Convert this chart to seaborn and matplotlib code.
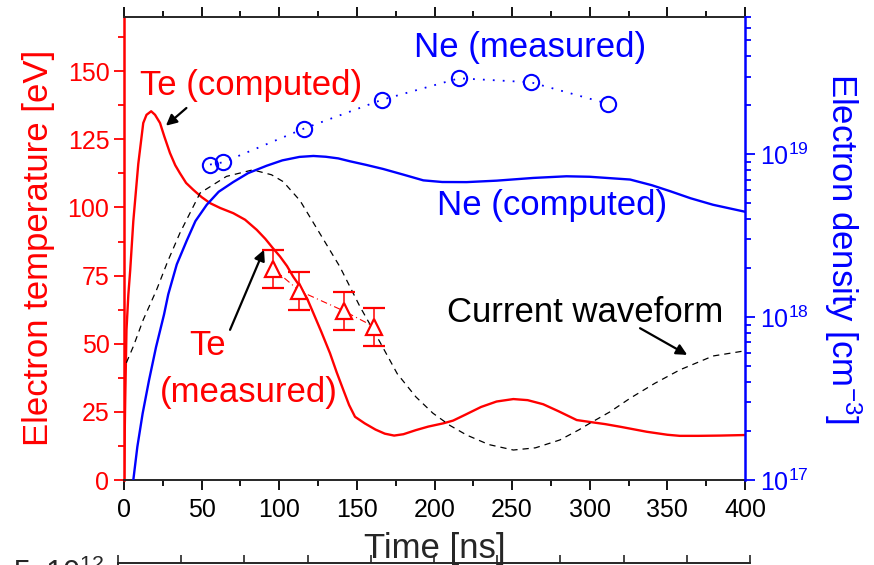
"""
Te / Ne time evolution with current waveform (reproduction)
"""
import numpy as np
import pandas as pd
import matplotlib; matplotlib.use('Agg')
import matplotlib.pyplot as plt
from matplotlib.ticker import MultipleLocator, AutoMinorLocator, LogLocator, NullFormatter
import seaborn as sns

# ── data ──────────────────────────────────────────────────────
te_t = [0, 0.8, 1.6, 2.8, 4.0, 6.0, 9.2, 12.4, 14.5, 17.5, 20, 23.2, 26, 29.6, 33, 36,
        40, 44.6, 50, 55.4, 62, 70.4, 78, 85.5, 91, 96, 100.5, 105, 109, 113.4, 118,
        122, 127, 132.7, 137, 141.3, 145, 148.8, 155, 162, 168, 174, 180, 188, 196,
        205.7, 212, 220, 230, 240, 250.8, 260, 270, 280, 291.6, 300, 310, 320, 336.7,
        350, 358, 370, 384, 400]
te_val = [0, 30, 55, 68, 77, 95, 116, 131, 134, 135.3, 134, 131, 126, 120, 115.5, 112.6,
          109, 106.5, 103.8, 101.6, 99.8, 97.9, 95.5, 91.8, 88.5, 85, 82, 78.5, 74.6, 71,
          66.5, 61.2, 54.5, 46.5, 39.5, 33, 27.5, 23.2, 20.8, 18.5, 17.0, 16.3, 16.8, 18.3,
          19.6, 20.8, 21.8, 24, 26.8, 28.8, 29.7, 29.3, 27.8, 25.2, 22.0, 21.3, 20.5, 19.5,
          17.7, 16.6, 16.2, 16.2, 16.3, 16.5]

cur_t = [1.5, 6, 12.4, 21, 28, 36, 49, 66, 83, 95, 102.5, 113.4, 126, 139, 152, 164,
         176, 188, 199, 210, 220.7, 235, 250.8, 265, 280.8, 293, 300, 313, 326, 342,
         358, 379.4, 400]
cur_val = [43, 49, 58.8, 69.8, 80, 90.6, 105.3, 111.4, 113.8, 112, 109.5, 102.5, 90.6,
           78.3, 63.6, 51.5, 39, 30.5, 24.5, 20, 16.5, 13, 11.0, 11.8, 14.7, 18.4, 20.8,
           25, 30, 35.5, 40.4, 45.5, 47.4]

te_meas_t = [96.2, 113.0, 141.7, 161.2]
te_meas = [77.5, 69.4, 62.0, 56.2]
te_meas_err = [7, 7, 7, 7]

ne_t = [6.0, 8.6, 12.0, 16.1, 20.6, 25.8, 28.5, 34, 40.4, 46, 53.3, 61, 70.4, 80, 91.9,
        102, 113, 122, 130, 138, 145.6, 156, 166.9, 180, 192.8, 205, 220.7, 240, 263.6,
        285, 300, 326, 340, 351.7, 365, 379.4, 400]
ne_val = [1.0e17, 1.60e17, 2.56e17, 4.09e17, 6.53e17, 1.04e18, 1.38e18, 2.11e18, 2.95e18,
          3.89e18, 4.9e18, 5.89e18, 6.76e18, 7.67e18, 8.51e18, 9.18e18, 9.64e18, 9.77e18,
          9.66e18, 9.44e18, 9.06e18, 8.61e18, 8.13e18, 7.5e18, 6.92e18, 6.76e18, 6.75e18,
          6.89e18, 7.16e18, 7.33e18, 7.28e18, 7.0e18, 6.46e18, 5.94e18, 5.37e18, 4.9e18,
          4.44e18]

ne_meas_t = [55.4, 64.0, 116.0, 166.0, 215.8, 262.0, 312.0]
ne_meas = [8.65e18, 8.94e18, 1.44e19, 2.16e19, 2.93e19, 2.77e19, 2.04e19]

x_ticks = [0, 50, 100, 150, 200, 250, 300, 350, 400]
te_ticks = [0, 25, 50, 75, 100, 125, 150]

RED = '#ff0000'
BLUE = '#0000ff'

# ── style ─────────────────────────────────────────────────────
sns.set_theme(style='ticks')
plt.rcParams['font.family'] = ['Liberation Sans', 'DejaVu Sans']
plt.rcParams.update({
    'mathtext.fontset': 'custom',
    'mathtext.rm': 'Liberation Sans',
    'mathtext.it': 'Liberation Sans:italic',
    'mathtext.default': 'regular',
    'axes.linewidth': 1.4,
})

fig = plt.figure(figsize=(8.74, 5.65), dpi=100, facecolor='white')
ax = fig.add_axes([124/874, 1 - 480/565, (745-124)/874, (480-16.7)/565])
ax2 = ax.twinx()

# Te computed / current waveform / Te measured (left axis)
sns.lineplot(x=te_t, y=te_val, ax=ax, color=RED, lw=1.7, sort=False)
sns.lineplot(x=cur_t, y=cur_val, ax=ax, color='black', lw=0.9, sort=False,
             linestyle=(0, (5, 4)))
ax.errorbar(te_meas_t, te_meas, yerr=te_meas_err, color=RED, lw=0.8,
            ls=(0, (6, 3, 1, 3)), marker='^', ms=12, mfc='white', mec=RED, mew=1.6,
            capsize=8, elinewidth=1.1, capthick=1.1, zorder=5)

# Ne computed / measured (right axis)
sns.lineplot(x=ne_t, y=ne_val, ax=ax2, color=BLUE, lw=1.7, sort=False)
ax2.plot(ne_meas_t, ne_meas, color=BLUE, lw=1.3, ls=(0, (1, 4.5)), marker='o', ms=11,
         mfc='none', mec=BLUE, mew=1.5)

# ── axes formatting ───────────────────────────────────────────
ax.set_xlim(0, 400)
ax.set_ylim(0, 170)
ax.set_xticks(x_ticks)
ax.xaxis.set_minor_locator(MultipleLocator(25))
ax.set_yticks(te_ticks)
ax.yaxis.set_minor_locator(AutoMinorLocator(2))
ax.tick_params(axis='x', which='both', direction='out', top=True, colors='black',
               labelsize=18, pad=6)
ax.tick_params(axis='x', which='major', length=7, width=1.3)
ax.tick_params(axis='x', which='minor', length=4, width=1.3)
ax.tick_params(axis='y', which='both', direction='out', colors=RED, labelsize=18,
               right=False)
ax.tick_params(axis='y', which='major', length=7, width=1.3)
ax.tick_params(axis='y', which='minor', length=4, width=1.3)
ax.set_xlabel('Time [ns]', fontsize=25, labelpad=7)
ax.set_ylabel('Electron temperature [eV]', fontsize=25, color=RED, labelpad=9)
ax.spines['left'].set_color(RED)
ax.spines['left'].set_linewidth(1.8)
ax.spines['right'].set_visible(False)

ax2.set_yscale('log')
ax2.set_ylim(1e17, 7e19)
ax2.yaxis.set_major_locator(LogLocator(base=10, numticks=10))
ax2.yaxis.set_minor_locator(LogLocator(base=10, subs=np.arange(2, 10), numticks=10))
ax2.yaxis.set_minor_formatter(NullFormatter())
ax2.tick_params(axis='y', which='both', direction='out', colors=BLUE, labelsize=18)
ax2.tick_params(axis='y', which='major', length=7, width=1.3)
ax2.tick_params(axis='y', which='minor', length=4, width=1.3)
ax2.set_ylabel('Electron density [cm$^{-3}$]', fontsize=25, color=BLUE,
               rotation=270, labelpad=40)
ax2.spines['right'].set_color(BLUE)
ax2.spines['right'].set_linewidth(1.8)
ax2.spines['left'].set_visible(False)
ax2.spines['top'].set_visible(False)
ax2.spines['bottom'].set_visible(False)

# ── annotations ───────────────────────────────────────────────
arw = dict(arrowstyle='-|>', color='black', lw=1.6, mutation_scale=16, shrinkA=0, shrinkB=0)
ax.text(81.8, 144.7, 'Te (computed)', color=RED, fontsize=25, ha='center', va='center')
ax.annotate('', xy=(27, 130), xytext=(40.2, 136.5), arrowprops=arw)
ax.text(261.5, 158.6, 'Ne (measured)', color=BLUE, fontsize=25, ha='center', va='center')
ax.text(275.7, 100.6, 'Ne (computed)', color=BLUE, fontsize=25, ha='center', va='center')
ax.text(297, 61.3, 'Current waveform', color='black', fontsize=25, ha='center', va='center')
ax.annotate('', xy=(362.8, 45.9), xytext=(332.4, 55.7), arrowprops=arw)
ax.text(54, 49.2, 'Te', color=RED, fontsize=25, ha='center', va='center')
ax.text(80.5, 32, '(measured)', color=RED, fontsize=25, ha='center', va='center')
ax.annotate('', xy=(90.2, 84.5), xytext=(68.3, 55.1), arrowprops=arw)

# ── lower panel (cut off at the figure edge) ──────────────────
ax3 = fig.add_axes([118/874, -0.3, (750-118)/874, 0.3 + 2/565])
ax3.set_xlim(0, 10)
ax3.set_ylim(0, 1)
ax3.set_xticks(range(11))
ax3.set_xticklabels([])
ax3.set_yticks([0.955])
ax3.set_yticklabels(['5x10$^{12}$'])
ax3.tick_params(axis='x', direction='out', top=True, bottom=False, length=6, width=1.2)
ax3.tick_params(axis='y', direction='out', length=0, labelsize=22, pad=10)
ax3.xaxis.set_ticks_position('top')
ax3.xaxis.set_tick_params(labeltop=False)
ax3.spines['right'].set_visible(False)
ax3.patch.set_alpha(0)

plt.savefig('out.png', dpi=100, facecolor='white')
